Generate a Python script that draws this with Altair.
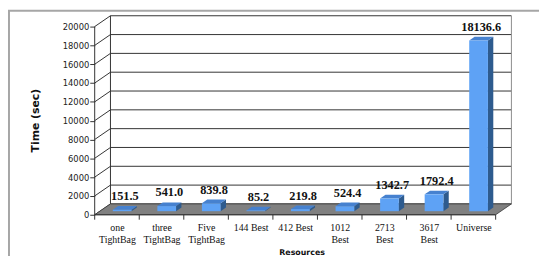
import altair as alt
import pandas as pd

# ---- data ----
categories = [["one", "TightBag"], ["three", "TightBag"], ["Five", "TightBag"],
              ["144 Best"], ["412 Best"], ["1012", "Best"], ["2713", "Best"],
              ["3617", "Best"], ["Universe"]]
times = [151.5, 541.0, 839.8, 85.2, 219.8, 524.4, 1342.7, 1792.4, 18136.6]
value_labels = ["151.5", "541.0", "839.8", "85.2", "219.8", "524.4", "1342.7", "1792.4", "18136.6"]
y_ticks = list(range(0, 20001, 2000))

# ---- pseudo-3D geometry (in data units) ----
N = len(times)
DX = 0.354          # depth shift along x (category units)
DY = 1152           # depth shift along y (value units)
F1, F2 = 0.33, 0.67  # bar front / back depth fractions
HALF = 0.21          # half bar width (category units)
YMAX = 20000

xs = alt.Scale(domain=[0, N + DX], nice=False, zero=False)
ys = alt.Scale(domain=[0, YMAX + DY], nice=False, zero=False)

dd_x = (F2 - F1) * DX
front_rows, side_rows, top_rows, lab_rows = [], [], [], []
for i, v in enumerate(times):
    a = i + 0.5 + F1 * DX - HALF
    b = i + 0.5 + F1 * DX + HALF
    front_rows.append(dict(bar=i, x=a, x2=b, y=F1 * DY, y2=F1 * DY + v))
    side_rows.append(dict(bar=i, x=b, y=F1 * DY, y2=F1 * DY + v))
    side_rows.append(dict(bar=i, x=b + dd_x, y=F2 * DY, y2=F2 * DY + v))
    top_rows.append(dict(bar=i, y=F1 * DY + v, x=a, x2=b))
    top_rows.append(dict(bar=i, y=F2 * DY + v, x=a + dd_x, x2=b + dd_x))
    lab_rows.append(dict(x=(a + b) / 2 + dd_x / 2, y=F2 * DY + v, t=value_labels[i]))

front_df = pd.DataFrame(front_rows)
side_df = pd.DataFrame(side_rows)
top_df = pd.DataFrame(top_rows)
lab_df = pd.DataFrame(lab_rows)

grid_back = pd.DataFrame(dict(x=[DX] * len(y_ticks), x2=[N + DX] * len(y_ticks),
                              y=[t + DY for t in y_ticks]))
grid_side = pd.DataFrame(dict(x=[0] * len(y_ticks), x2=[DX] * len(y_ticks),
                              y=y_ticks, y2=[t + DY for t in y_ticks]))
wall_left = pd.DataFrame(dict(x=[DX], y=[DY], y2=[YMAX + DY]))
wall_right = pd.DataFrame(dict(x=[N + DX], y=[DY], y2=[YMAX + DY]))
floor_df = pd.DataFrame(dict(y=[0, DY], x=[0, DX], x2=[N, N + DX]))
yaxis_line = pd.DataFrame(dict(x=[0], y=[0], y2=[YMAX]))
xaxis_line = pd.DataFrame(dict(x=[0], x2=[N], y=[0]))
xticks_df = pd.DataFrame(dict(x=list(range(N + 1)), y=[0] * (N + 1)))
axis_df = pd.DataFrame(dict(x=[i + 0.5 for i in range(N)], y=[0] * N))

label_expr = "[" + ",".join("[" + ",".join('"%s"' % s for s in c) + "]" for c in categories) + "][floor(datum.value)]"

GRID = "#333333"

X_AX = alt.Axis(
    values=[i + 0.5 for i in range(N)], labelExpr=label_expr, ticks=False, domain=False,
    grid=False, labelFont="Liberation Serif", labelFontSize=10, labelLineHeight=12,
    labelColor="#111", labelPadding=8, labelBaseline="top", labelAngle=0,
    labelOverlap=False, labelFlush=False, title="Resources", titleFont="DejaVu Sans",
    titleFontSize=8, titleFontWeight="bold", titleColor="#111", titleX=210, titleY=38,
    titleBaseline="middle", titleAlign="center")
Y_AX = alt.Axis(
    values=y_ticks, format="d", tickSize=5, tickColor=GRID, domain=False, grid=False,
    labelFont="DejaVu Sans", labelFontSize=8.5, labelColor="#222", labelPadding=1,
    title="Time (sec)", titleFont="DejaVu Sans", titleFontSize=11, titleFontWeight="bold",
    titleColor="#111", titleAngle=270, titleX=-60, titleY=106, titleAlign="center",
    titleBaseline="middle")


def X(f="x:Q", stack=True):
    if stack:
        return alt.X(f, scale=xs, axis=X_AX)
    return alt.X(f, scale=xs, axis=X_AX, stack=False)


def Y(f="y:Q", stack=True):
    if stack:
        return alt.Y(f, scale=ys, axis=Y_AX)
    return alt.Y(f, scale=ys, axis=Y_AX, stack=False)


# decorative outer frame (left and top edges only, like the cropped original)
frame_left = alt.Chart(axis_df.head(1)).mark_rule(color="#a6a6a6", strokeWidth=2).encode(
    x=alt.value(-87), y=alt.value(-5), y2=alt.value(400))
frame_top = alt.Chart(axis_df.head(1)).mark_rule(color="#a6a6a6", strokeWidth=2).encode(
    x=alt.value(-88), x2=alt.value(700), y=alt.value(-5))

back = alt.Chart(grid_back).mark_rule(color=GRID, strokeWidth=1).encode(
    x=X(), x2="x2:Q", y=Y())
side = alt.Chart(grid_side).mark_rule(color=GRID, strokeWidth=1).encode(
    x=X(), x2="x2:Q", y=Y(), y2="y2:Q")
edge_l = alt.Chart(wall_left).mark_rule(color=GRID, strokeWidth=1).encode(
    x=X(), y=Y(), y2="y2:Q")
edge_r = alt.Chart(wall_right).mark_rule(color="#8c8c8c", strokeWidth=1).encode(
    x=X(), y=Y(), y2="y2:Q")
floor = alt.Chart(floor_df).mark_area(orient="horizontal", color="#808080", stroke="#3a3a3a",
                                       strokeWidth=0.8).encode(
    y=Y(stack=False), x=X(stack=False), x2="x2:Q")

bar_side = alt.Chart(side_df).mark_area(orient="vertical", color="#2e5b8e").encode(
    x=X(stack=False), y=Y(stack=False), y2="y2:Q", detail="bar:N")
bar_top = alt.Chart(top_df).mark_area(orient="horizontal", color="#4681cf").encode(
    y=Y(stack=False), x=X(stack=False), x2="x2:Q", detail="bar:N")
bar_front = alt.Chart(front_df).mark_rect(color="#5ea2f5").encode(
    x=X(), x2="x2:Q", y=Y(), y2="y2:Q")

yline = alt.Chart(yaxis_line).mark_rule(color=GRID, strokeWidth=1).encode(
    x=X(), y=Y(), y2="y2:Q")
xline = alt.Chart(xaxis_line).mark_rule(color=GRID, strokeWidth=1).encode(
    x=X(), x2="x2:Q", y=Y())
xticks = alt.Chart(xticks_df).mark_rule(color=GRID, strokeWidth=1, y2Offset=5).encode(
    x=X(), y=Y(), y2="y:Q")

labels = alt.Chart(lab_df).mark_text(font="Liberation Serif", fontSize=12.5, fontWeight="bold",
                                     color="#111", dy=-6, baseline="alphabetic").encode(
    x=X(), y=Y(), text="t:N")

chart = alt.layer(
    frame_left, frame_top, back, side, edge_l, edge_r, floor, bar_side, bar_top, bar_front,
    yline, xline, xticks, labels
).properties(
    width=423, height=202,
    autosize=alt.AutoSizeParams(type="none"),
    padding={"left": 88, "top": 6, "right": 28, "bottom": 40},
    background="white",
).configure_view(stroke=None)

chart.save("out.html", embed_options={"renderer": "svg", "actions": False})
